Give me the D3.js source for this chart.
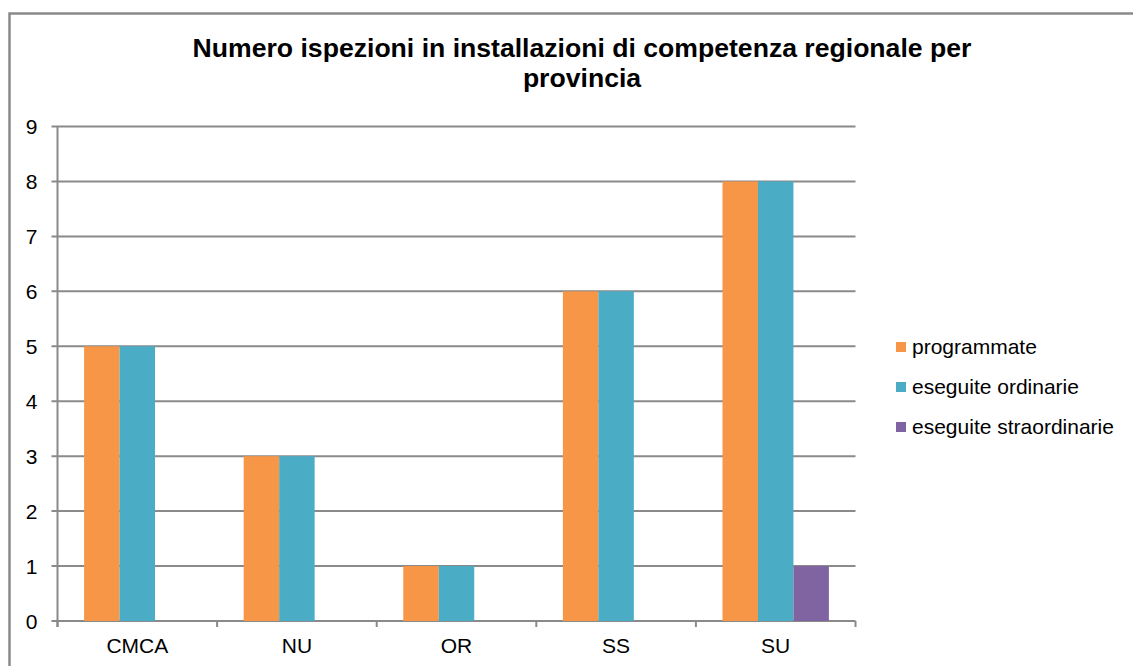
<!DOCTYPE html>
<html lang="it">
<head>
<meta charset="UTF-8">
<title>Numero ispezioni</title>
<script src="https://d3js.org/d3.v7.min.js"></script>
<style>
    body { margin: 0; background: #fff; }
    svg { display: block; font-family: "Liberation Sans", Arial, sans-serif; }
    .title { font-size: 26.6px; font-weight: bold; text-anchor: middle; }
    .lbl { font-size: 21px; fill: #000; }
</style>
</head>
<body>
<svg id="chart"></svg>
<script>
// data
var categories = ["CMCA", "NU", "OR", "SS", "SU"];
var seriesNames = ["programmate", "eseguite ordinarie", "eseguite straordinarie"];
var programmate = [5, 3, 1, 6, 8];
var eseguiteOrdinarie = [5, 3, 1, 6, 8];
var eseguiteStraordinarie = [0, 0, 0, 0, 1];
var yTicks = [0, 1, 2, 3, 4, 5, 6, 7, 8, 9];
var colors = ["#F79646", "#4BACC6", "#8064A2"];

var seriesValues = [programmate, eseguiteOrdinarie, eseguiteStraordinarie];

var W = 1133, H = 666;
var margin = { top: 126.5, right: 277.5, bottom: 45, left: 57.5 };
var gridColor = "#8a8a8a";

var svg = d3.select("#chart").attr("width", W).attr("height", H);

// outer frame
svg.append("rect")
    .attr("x", 9.5).attr("y", 13.5)
    .attr("width", 1200).attr("height", 700)
    .attr("fill", "none")
    .attr("stroke", gridColor)
    .attr("stroke-width", 2.5);

// title
var title = svg.append("text").attr("class", "title");
title.append("tspan").attr("x", 582).attr("y", 57).text("Numero ispezioni in installazioni di competenza regionale per");
title.append("tspan").attr("x", 582).attr("y", 87).text("provincia");

// scales
var x0 = d3.scaleBand()
    .domain(categories)
    .range([margin.left, W - margin.right])
    .paddingInner(0).paddingOuter(0);

var x1 = d3.scaleBand()
    .domain(seriesNames)
    .range([0, x0.bandwidth()])
    .paddingInner(0).paddingOuter(0.75);

var y = d3.scaleLinear()
    .domain([0, 9])
    .range([H - margin.bottom, margin.top]);

// gridlines
svg.append("g").selectAll("line")
    .data(yTicks)
    .enter().append("line")
    .attr("x1", margin.left - 6)
    .attr("x2", W - margin.right)
    .attr("y1", d => y(d))
    .attr("y2", d => y(d))
    .attr("stroke", gridColor)
    .attr("stroke-width", 2);

// bars
var rows = categories.map((c, i) => seriesNames.map((s, j) => ({ cat: c, key: s, value: seriesValues[j][i], color: colors[j] })));

svg.append("g").selectAll("g")
    .data(rows)
    .enter().append("g")
    .attr("transform", (d, i) => "translate(" + x0(categories[i]) + ",0)")
    .selectAll("rect")
    .data(d => d.filter(v => v.value > 0))
    .enter().append("rect")
    .attr("x", d => x1(d.key))
    .attr("width", x1.bandwidth())
    .attr("y", d => y(d.value))
    .attr("height", d => y(0) - y(d.value))
    .attr("fill", d => d.color);

// y axis
var yAxis = svg.append("g")
    .attr("transform", "translate(" + margin.left + ",0)")
    .call(d3.axisLeft(y).tickValues(yTicks).tickFormat(d3.format("d")).tickSize(6).tickPadding(14));
yAxis.select(".domain").remove();
yAxis.selectAll(".tick line").remove();
yAxis.selectAll(".tick text").attr("class", "lbl").attr("fill", "#000").attr("dy", "0.35em");
yAxis.append("line")
    .attr("x1", 0).attr("x2", 0)
    .attr("y1", y(9)).attr("y2", y(0) + 6)
    .attr("stroke", gridColor).attr("stroke-width", 2);

// x axis
var xAxis = svg.append("g")
    .attr("transform", "translate(0," + y(0) + ")")
    .call(d3.axisBottom(x0).tickSize(0).tickPadding(17));
xAxis.select(".domain").remove();
xAxis.selectAll(".tick text").attr("class", "lbl").attr("fill", "#000").attr("dy", "0.71em");

// x tick marks at category boundaries
var bounds = categories.map(c => x0(c)).concat([x0.range()[1]]);
xAxis.selectAll(".bound")
    .data(bounds)
    .enter().append("line")
    .attr("x1", d => d).attr("x2", d => d)
    .attr("y1", 0).attr("y2", 6)
    .attr("stroke", gridColor).attr("stroke-width", 2);

// legend
var legend = svg.append("g").attr("transform", "translate(896,342)");
var item = legend.selectAll("g")
    .data(seriesNames)
    .enter().append("g")
    .attr("transform", (d, i) => "translate(0," + (i * 40) + ")");
item.append("rect")
    .attr("width", 10).attr("height", 10)
    .attr("fill", (d, i) => colors[i]);
item.append("text")
    .attr("class", "lbl")
    .attr("x", 16).attr("y", 5).attr("dy", "0.35em")
    .text(d => d);
</script>
</body>
</html>
